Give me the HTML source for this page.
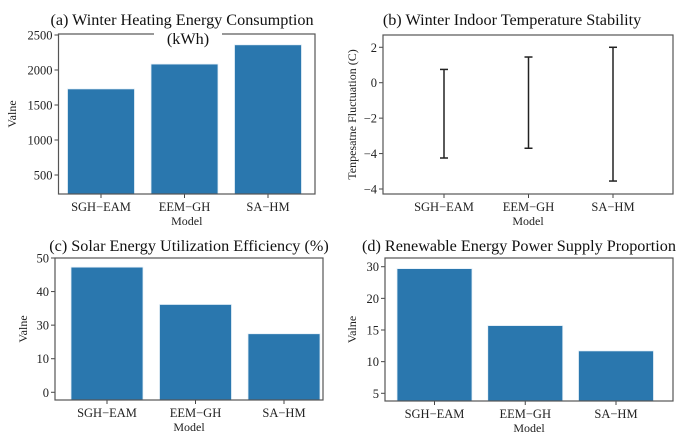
<!DOCTYPE html>
<html><head><meta charset="utf-8"><style>
html,body{margin:0;padding:0;background:#fff;}
svg{display:block;font-family:"Liberation Serif",serif;}
</style></head><body>
<svg id="fig" width="685" height="434" viewBox="0 0 685 434" xmlns="http://www.w3.org/2000/svg"></svg>
<script>
const categories = ["SGH\u2212EAM","EEM\u2212GH","SA\u2212HM"];
const heatingValues = [1730, 2085, 2360];
const heatingTicks = [500, 1000, 1500, 2000, 2500];
const heatingTickLabels = ["500","1000","1500","2000","2500"];
const tempHigh = [0.75, 1.45, 2.0];
const tempLow = [-4.25, -3.7, -5.55];
const tempTicks = [2, 0, -2, -4, -6];
const tempTickLabels = ["2","0","\u22122","\u22124","\u22124"];
const solarValues = [46.6, 32.7, 21.8];
const solarTicks = [50, 37.5, 25, 12.5, 0];
const solarTickLabels = ["50","40","30","10","0"];
const renewValues = [24.7, 15.7, 11.7];
const renewTicks = [25, 20, 15, 10, 5];
const renewTickLabels = ["30","20","15","10","5"];

const NS="http://www.w3.org/2000/svg";
const svg=document.getElementById('fig');
function mk(tag,attrs,parent){const e=document.createElementNS(NS,tag);for(const k in attrs)e.setAttribute(k,attrs[k]);(parent||svg).appendChild(e);return e;}
function txt(s,attrs,parent){const e=mk('text',attrs,parent);e.textContent=s;return e;}

function panel(cfg){
  const g=mk('g',{});
  
  
  const y=v=>cfg.y1+(v-cfg.vmax)/(cfg.vmin-cfg.vmax)*(cfg.y2-cfg.y1);
  const xc=i=>cfg.c0+i*(cfg.c2-cfg.c0)/2;
  cfg.ticks.forEach((t,i)=>{
    const yy=y(t);
    const tk=mk('line',{x1:cfg.x1-4,x2:cfg.x1,y1:yy,y2:yy,stroke:'#444','stroke-width':1},g);
    
    
    const l=txt(cfg.tickLabels[i],{x:cfg.x1-6,y:yy+4.5,'font-size':12.5,'text-anchor':'end',fill:'#222'},g);
    
    
  });
  categories.forEach((c,i)=>{
    const cx=xc(i);
    if(cfg.type==='bar'){
      const top=y(cfg.values[i]);
      const r=mk('rect',{x:cx-cfg.bw/2,y:top,width:cfg.bw,height:cfg.y2-top,fill:'#2a77ae',stroke:'#e6f0f8','stroke-width':0.8},g);
      
      
    } else {
      const yh=y(cfg.high[i]), yl=y(cfg.low[i]);
      const eb=mk('g',{stroke:'#222','stroke-width':1.5},g);
      
      
      mk('line',{x1:cx,x2:cx,y1:yh,y2:yl},eb);
      mk('line',{x1:cx-4,x2:cx+4,y1:yh,y2:yh},eb);
      mk('line',{x1:cx-4,x2:cx+4,y1:yl,y2:yl},eb);
    }
    const tk=mk('line',{x1:cx,x2:cx,y1:cfg.y2,y2:cfg.y2+4,stroke:'#444','stroke-width':1},g);
    
    
    const l=txt(c,{x:cx,y:cfg.y2+17,'font-size':12.5,'text-anchor':'middle',fill:'#222'},g);
    
    
  });
  const fr=mk('rect',{x:cfg.x1,y:cfg.y1,width:cfg.x2-cfg.x1,height:cfg.y2-cfg.y1,fill:'none',stroke:'#555','stroke-width':1.2},g);
  
  
  const xt=txt('Model',{x:(cfg.x1+cfg.x2)/2,y:cfg.y2+31,'font-size':12,'text-anchor':'middle',fill:'#222'},g);
  
  
  const yt=txt(cfg.ylabel,{x:0,y:0,'font-size':12,'text-anchor':'middle',fill:'#222',transform:`translate(${cfg.ylx},${(cfg.y1+cfg.y2)/2}) rotate(-90)`},g);
  
  
  cfg.title.forEach((t,i)=>{
    if(i>0){mk('rect',{x:t[1]-34,y:t[2]-15,width:68,height:20,fill:'#fff'},g);}
    const e=txt(t[0],{x:t[1],y:t[2],'font-size':16.2,'text-anchor':'middle',fill:'#111'},g);
    
    
  });
}

panel({name:'panel-a-heating',type:'bar',values:heatingValues,ticks:heatingTicks,tickLabels:heatingTickLabels,
  x1:58.5,x2:315,y1:34,y2:194,vmax:2500+1/0.07,vmin:500-19/0.07,c0:101,c2:268,bw:67,
  ylabel:'Valne',ylx:16,title:[['(a)  Winter Heating Energy Consumption',182,25],['(kWh)',188,44]]});
panel({name:'panel-b-temperature',type:'err',high:tempHigh,low:tempLow,ticks:tempTicks,tickLabels:tempTickLabels,
  x1:383,x2:673,y1:35,y2:194,vmax:2+(47.3-35)/17.75,vmin:-6-(194-189)/17.75,c0:444,c2:613,
  ylabel:'Tenpesatne Fluctuation (C)',ylx:356,title:[['(b) Winter Indoor Temperature Stability',512,25]]});
panel({name:'panel-c-solar',type:'bar',values:solarValues,ticks:solarTicks,tickLabels:solarTickLabels,
  x1:55,x2:323,y1:258,y2:400,vmax:50,vmin:-(400-392.3)/2.68,c0:107,c2:284,bw:72,
  ylabel:'Valne',ylx:27,title:[['(c)  Solar Energy Utilization Efficiency (%)',189,251]]});
panel({name:'panel-d-renewable',type:'bar',values:renewValues,ticks:renewTicks,tickLabels:renewTickLabels,
  x1:385,x2:673,y1:258,y2:401,vmax:25+(266.7-258)/6.33,vmin:5-(401-393.3)/6.33,c0:434.5,c2:616,bw:75,
  ylabel:'Valne',ylx:356,title:[['(d)  Renewable Energy Power Supply Proportion',519,251]]});
</script>
</body></html>
